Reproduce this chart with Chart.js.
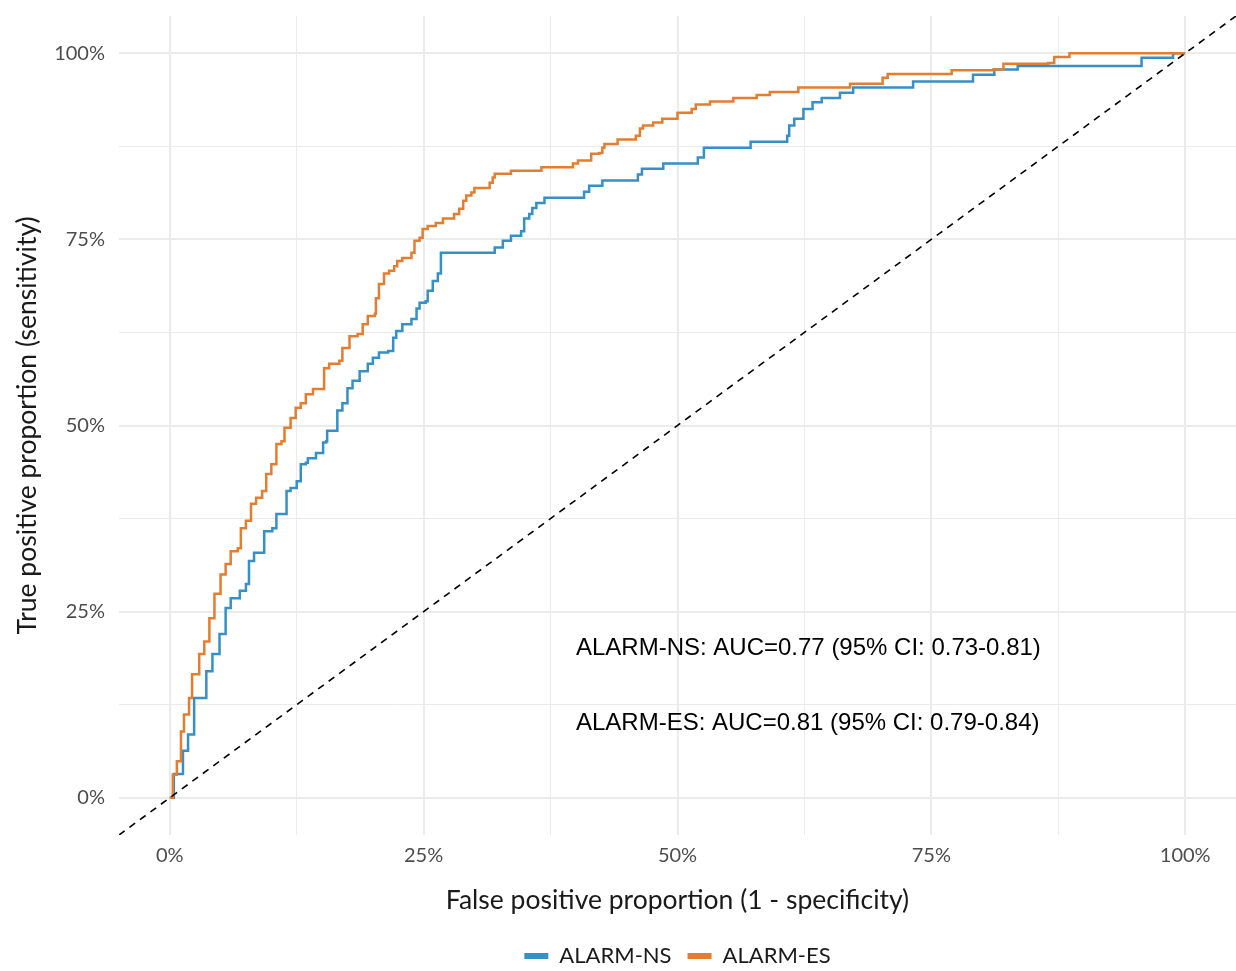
<!DOCTYPE html>
<html>
<head>
<meta charset="utf-8">
<script src="https://cdn.jsdelivr.net/npm/chart.js@4"></script>
<style>
  body { margin: 0; background: #fff; }
  #wrap { width: 1236px; height: 971px; }
</style>
</head>
<body>
<div id="wrap"><canvas id="rocChart" width="1236" height="971"></canvas></div>
<script>
// ROC curve points (percent)
const nsFpr = [0, 0.4, 1.1, 1.3, 1.8, 2.4, 2.9, 3.6, 4.2, 4.9, 5.5, 6.0, 6.9, 7.5, 7.8, 8.3, 9.0, 9.3, 10.1, 10.5,
  11.3, 11.5, 11.9, 12.5, 12.9, 13.4, 13.6, 14.2, 14.4, 14.9, 15.1, 15.4, 15.5, 16.4, 16.5, 17.0, 17.5, 18.0, 18.7, 19.5,
  20.0, 20.6, 21.5, 22.0, 22.3, 22.9, 23.8, 24.3, 24.6, 25.2, 25.4, 25.9, 26.4, 26.7, 31.8, 32.0, 32.6, 32.8, 33.5, 33.6,
  34.4, 34.6, 34.9, 35.4, 35.7, 36.1, 36.7, 36.9, 40.7, 40.8, 41.2, 41.3, 42.5, 42.6, 45.9, 46.1, 46.4, 46.5, 48.4, 48.6,
  51.8, 52.0, 52.5, 52.6, 57.1, 57.2, 60.7, 60.8, 61.0, 61.5, 62.2, 62.4, 63.3, 64.2, 66.0, 67.3, 73.0, 73.2, 79.1, 79.1,
  81.1, 81.2, 83.5, 95.7, 95.7, 98.6, 98.8, 100];
const nsTpr = [0, 3.2, 3.2, 6.3, 8.5, 13.4, 13.4, 17.0, 19.3, 22.0, 25.5, 26.8, 27.8, 28.7, 31.8, 32.9, 32.9, 35.8, 36.2, 38.1,
  38.1, 41.2, 41.6, 42.5, 44.8, 45.0, 45.6, 45.6, 46.3, 46.3, 47.7, 47.9, 49.3, 49.3, 52.0, 53.0, 55.0, 56.0, 57.3, 58.3,
  59.1, 59.8, 60.0, 61.8, 62.7, 63.6, 64.3, 65.7, 66.5, 66.7, 68.1, 69.4, 70.4, 73.2, 73.2, 73.9, 73.9, 74.8, 74.8, 75.5,
  75.5, 76.1, 77.8, 78.4, 79.2, 79.9, 79.9, 80.6, 80.6, 81.4, 81.4, 82.2, 82.2, 82.9, 82.9, 83.7, 83.7, 84.5, 84.5, 85.2,
  85.2, 86.0, 86.0, 87.3, 87.3, 88.1, 88.1, 88.9, 90.3, 91.2, 91.2, 92.5, 93.4, 94.0, 94.7, 95.4, 95.4, 96.2, 96.2, 97.1,
  97.1, 97.8, 98.3, 98.3, 99.4, 99.4, 100, 100];

const esFpr = [0, 0.3, 0.7, 1.1, 1.4, 1.9, 2.2, 2.9, 3.4, 3.9, 4.4, 5.0, 5.5, 6.0, 6.7, 7.0, 7.5, 8.0, 8.5, 9.1,
  9.5, 10.0, 10.5, 11.0, 11.3, 11.9, 12.4, 12.9, 13.4, 14.1, 14.7, 15.2, 15.7, 16.7, 17.0, 17.7, 18.5, 19.0, 19.5, 20.2,
  20.3, 20.6, 21.1, 21.6, 22.1, 22.4, 22.9, 23.8, 24.1, 24.6, 24.9, 25.4, 26.2, 26.9, 27.9, 28.0, 28.5, 28.9, 29.2, 29.7,
  30.0, 31.2, 31.5, 31.8, 32.0, 33.5, 33.6, 36.4, 36.6, 39.5, 39.7, 40.2, 41.2, 41.5, 42.3, 42.6, 42.8, 44.0, 44.1, 45.8,
  45.9, 46.3, 46.6, 47.4, 47.6, 48.5, 49.9, 50.0, 51.2, 51.4, 51.8, 53.2, 55.5, 57.8, 59.1, 61.9, 67.0, 70.1, 70.2, 70.7,
  76.8, 77.0, 81.1, 82.1, 86.5, 87.1, 88.6, 100];
const esTpr = [0, 3.1, 4.9, 8.9, 11.2, 13.4, 16.6, 19.3, 21.0, 24.1, 27.4, 30.0, 31.4, 33.1, 33.5, 36.2, 37.2, 39.5, 40.3, 41.2,
  43.5, 44.8, 47.5, 47.9, 49.7, 51.0, 52.4, 53.0, 54.2, 54.9, 54.9, 57.7, 58.3, 58.7, 60.4, 62.0, 62.3, 63.6, 64.7, 65.0,
  67.1, 69.0, 70.4, 70.8, 71.4, 72.1, 72.5, 73.2, 74.8, 75.2, 76.4, 76.8, 77.2, 77.8, 77.8, 78.4, 79.1, 80.2, 80.9, 81.3,
  81.9, 81.9, 82.6, 83.3, 83.8, 83.8, 84.2, 84.2, 84.7, 84.7, 85.2, 85.6, 85.6, 86.5, 86.6, 87.3, 87.8, 87.8, 88.4, 88.4,
  88.9, 89.9, 90.3, 90.3, 90.7, 91.2, 91.2, 92.0, 92.0, 92.5, 93.1, 93.5, 94.0, 94.4, 94.8, 95.4, 95.9, 95.9, 96.7, 97.2,
  97.2, 97.7, 97.8, 98.6, 98.7, 99.5, 100, 100];

const diagonal = [-5, 105];
const majorTicks = [0, 25, 50, 75, 100];
const minorTicks = [12.5, 37.5, 62.5, 87.5];

const annotations = [
  { x: 40, y: 20, text: "ALARM-NS: AUC=0.77 (95% CI: 0.73-0.81)" },
  { x: 40, y: 10, text: "ALARM-ES: AUC=0.81 (95% CI: 0.79-0.84)" },
];

const toPoints = (xs, ys) => xs.map((x, i) => ({ x: x, y: ys[i] }));
const allTicks = majorTicks.concat(minorTicks).sort((a, b) => a - b);

const gridOpts = {
  color: "#ebebeb",
  lineWidth: (c) => (c.tick && majorTicks.includes(c.tick.value) ? 2 : 1),
  drawTicks: false,
};

const tickFont = { family: "Lato", size: 20 };
const titleFont = { family: "Lato", size: 26.5 };

// text labels inside the panel
const annotationPlugin = {
  id: "aucText",
  afterDatasetsDraw(chart) {
    const { ctx, scales } = chart;
    ctx.save();
    ctx.font = '24px "Liberation Sans", Arial, sans-serif';
    ctx.fillStyle = "#000";
    ctx.textAlign = "left";
    ctx.textBaseline = "middle";
    annotations.forEach((a) => {
      ctx.fillText(a.text, scales.x.getPixelForValue(a.x), scales.y.getPixelForValue(a.y));
    });
    ctx.restore();
  },
};

// push the legend a bit lower, like the original
const legendNudge = {
  id: "legendNudge",
  afterLayout(chart) {
    if (chart.legend) {
      chart.legend.top += 6;
      chart.legend.bottom += 6;
    }
  },
};

const ctx = document.getElementById("rocChart").getContext("2d");
const rocChart = new Chart(ctx, {
  type: "line",
  data: {
    datasets: [
      {
        label: "ALARM-NS",
        data: toPoints(nsFpr, nsTpr),
        borderColor: "#3590c8",
        backgroundColor: "#3590c8",
        borderWidth: 2.5,
        pointRadius: 0,
        stepped: "before",
        order: 2,
      },
      {
        label: "ALARM-ES",
        data: toPoints(esFpr, esTpr),
        borderColor: "#e37d30",
        backgroundColor: "#e37d30",
        borderWidth: 2.5,
        pointRadius: 0,
        stepped: "before",
        order: 1,
      },
      {
        label: "diagonal",
        data: toPoints(diagonal, diagonal),
        borderColor: "#000",
        borderWidth: 1.6,
        borderDash: [7, 6],
        pointRadius: 0,
        order: 0,
      },
    ],
  },
  options: {
    responsive: false,
    animation: false,
    layout: { padding: { top: 16, left: 0, right: 0, bottom: 0 } },
    scales: {
      x: {
        type: "linear",
        min: -5,
        max: 105,
        afterBuildTicks: (scale) => {
          scale.ticks = allTicks.map((v) => ({ value: v }));
        },
        afterFit: (scale) => {
          scale.height = 88;
          scale.paddingLeft = 0;
          scale.paddingRight = 0;
        },
        grid: gridOpts,
        border: { display: false },
        ticks: {
          autoSkip: false,
          maxRotation: 0,
          padding: 9,
          color: "#4d4d4d",
          font: tickFont,
          callback: (v) => (majorTicks.includes(v) ? v + "%" : ""),
        },
        title: {
          display: true,
          text: "False positive proportion (1 - specificity)",
          color: "#1a1a1a",
          font: titleFont,
          padding: { top: 0, bottom: 7 },
        },
      },
      y: {
        type: "linear",
        min: -5,
        max: 105,
        afterBuildTicks: (scale) => {
          scale.ticks = allTicks.map((v) => ({ value: v }));
        },
        afterFit: (scale) => {
          scale.width = 119;
          scale.paddingTop = 0;
          scale.paddingBottom = 0;
        },
        grid: gridOpts,
        border: { display: false },
        ticks: {
          autoSkip: false,
          padding: 14,
          color: "#4d4d4d",
          font: tickFont,
          callback: (v) => (majorTicks.includes(v) ? v + "%" : ""),
        },
        title: {
          display: true,
          text: "True positive proportion (sensitivity)",
          color: "#1a1a1a",
          font: titleFont,
          padding: { top: 12, bottom: 0 },
        },
      },
    },
    plugins: {
      legend: {
        position: "bottom",
        fullSize: false,
        labels: {
          boxWidth: 24,
          boxHeight: 6,
          padding: 16,
          color: "#1a1a1a",
          font: { family: "Lato", size: 22 },
          filter: (item) => item.datasetIndex < 2,
          sort: (a, b) => a.datasetIndex - b.datasetIndex,
          generateLabels: (chart) =>
            Chart.defaults.plugins.legend.labels.generateLabels(chart).map((l) => ({ ...l, lineWidth: 0 })),
        },
      },
      tooltip: { enabled: false },
    },
  },
  plugins: [annotationPlugin, legendNudge],
});
</script>
</body>
</html>
